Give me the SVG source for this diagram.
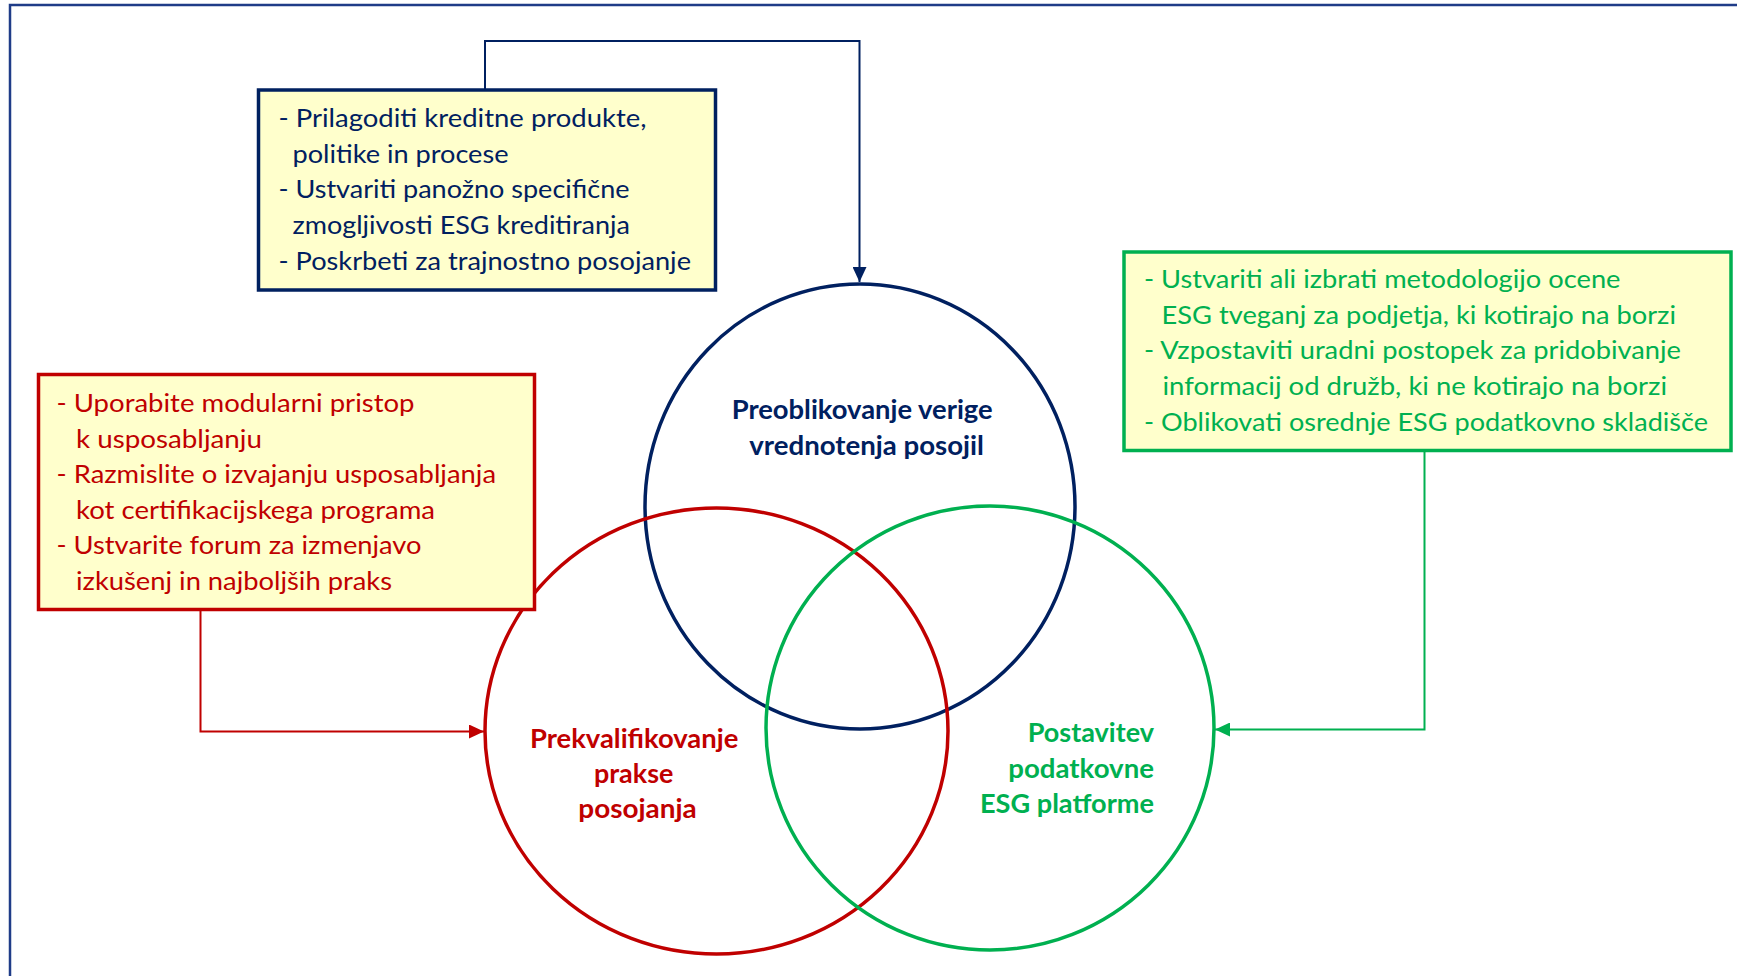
<svg xmlns="http://www.w3.org/2000/svg" width="1737" height="976" viewBox="0 0 1737 976">
<defs>
<style>
.t{font-family:Lato,"Liberation Sans",sans-serif;font-size:25px}
.b{font-family:Lato,"Liberation Sans",sans-serif;font-size:26px;font-weight:bold}
.navy{fill:#002060}.red{fill:#C00000}.green{fill:#00B050}
.box{fill:#FFFFCC;stroke-width:3.5}
.circ{fill:none;stroke-width:3.5}
.con{fill:none;stroke-width:2}
</style>
<marker id="aN" markerUnits="userSpaceOnUse" markerWidth="16" markerHeight="14" refX="15" refY="7" orient="auto"><path d="M0,0 L15,7 L0,14 z" fill="#002060"/></marker>
<marker id="aR" markerUnits="userSpaceOnUse" markerWidth="16" markerHeight="14" refX="15" refY="7" orient="auto"><path d="M0,0 L15,7 L0,14 z" fill="#C00000"/></marker>
<marker id="aG" markerUnits="userSpaceOnUse" markerWidth="16" markerHeight="14" refX="15" refY="7" orient="auto"><path d="M0,0 L15,7 L0,14 z" fill="#00B050"/></marker>
</defs>
<rect width="1737" height="976" fill="#FFFFFF"/>
<path d="M10,980 V5 H1745" fill="none" stroke="#1F3C88" stroke-width="2.5"/>

<g id="circle-blue">
<ellipse class="circ" cx="860" cy="506.5" rx="215" ry="222.5" stroke="#002060"/>
<text class="b navy" x="731.7" y="419.3" textLength="261" lengthAdjust="spacingAndGlyphs">Preoblikovanje verige</text>
<text class="b navy" x="749.3" y="455" textLength="234.7" lengthAdjust="spacingAndGlyphs">vrednotenja posojil</text>
</g>
<g id="circle-red">
<ellipse class="circ" cx="716.5" cy="731" rx="231.5" ry="223" stroke="#C00000"/>
<text class="b red" x="530" y="748.3" textLength="208.3" lengthAdjust="spacingAndGlyphs">Prekvalifikovanje</text>
<text class="b red" x="594" y="783.3" textLength="79.3" lengthAdjust="spacingAndGlyphs">prakse</text>
<text class="b red" x="578.3" y="818" textLength="118.4" lengthAdjust="spacingAndGlyphs">posojanja</text>
</g>
<g id="circle-green">
<ellipse class="circ" cx="990" cy="728" rx="224" ry="222" stroke="#00B050"/>
<text class="b green" x="1027.7" y="741.7" textLength="126.3" lengthAdjust="spacingAndGlyphs">Postavitev</text>
<text class="b green" x="1008.3" y="778.3" textLength="145.7" lengthAdjust="spacingAndGlyphs">podatkovne</text>
<text class="b green" x="980" y="813.3" textLength="174" lengthAdjust="spacingAndGlyphs">ESG platforme</text>
</g>

<g id="connectors">
<path class="con" d="M485,89 V41 H859.5 V282" stroke="#002060" marker-end="url(#aN)"/>
<path class="con" d="M200.5,611 V731.5 H484" stroke="#C00000" marker-end="url(#aR)"/>
<path class="con" d="M1424.5,451 V729.5 H1215" stroke="#00B050" marker-end="url(#aG)"/>
</g>

<g id="box-blue">
<rect class="box" x="258.5" y="90" width="457" height="200" stroke="#002060"/>
<text class="t navy" x="278.5" y="127" textLength="368" lengthAdjust="spacingAndGlyphs">- Prilagoditi kreditne produkte,</text>
<text class="t navy" x="292.5" y="162.7" textLength="216" lengthAdjust="spacingAndGlyphs">politike in procese</text>
<text class="t navy" x="278.5" y="198.4" textLength="351" lengthAdjust="spacingAndGlyphs">- Ustvariti panožno specifične</text>
<text class="t navy" x="292.5" y="234.1" textLength="337.5" lengthAdjust="spacingAndGlyphs">zmogljivosti ESG kreditiranja</text>
<text class="t navy" x="278.5" y="269.8" textLength="412.5" lengthAdjust="spacingAndGlyphs">- Poskrbeti za trajnostno posojanje</text>
</g>

<g id="box-red">
<rect class="box" x="38.5" y="374.5" width="496" height="235" stroke="#C00000"/>
<text class="t red" x="56.5" y="412" textLength="358" lengthAdjust="spacingAndGlyphs">- Uporabite modularni pristop</text>
<text class="t red" x="76" y="447.5" textLength="186" lengthAdjust="spacingAndGlyphs">k usposabljanju</text>
<text class="t red" x="56.5" y="483" textLength="439.5" lengthAdjust="spacingAndGlyphs">- Razmislite o izvajanju usposabljanja</text>
<text class="t red" x="76" y="518.5" textLength="359" lengthAdjust="spacingAndGlyphs">kot certifikacijskega programa</text>
<text class="t red" x="56.5" y="554" textLength="365" lengthAdjust="spacingAndGlyphs">- Ustvarite forum za izmenjavo</text>
<text class="t red" x="76" y="589.5" textLength="316" lengthAdjust="spacingAndGlyphs">izkušenj in najboljših praks</text>
</g>

<g id="box-green">
<rect class="box" x="1124" y="252" width="607" height="198.5" stroke="#00B050"/>
<text class="t green" x="1144" y="288" textLength="476.5" lengthAdjust="spacingAndGlyphs">- Ustvariti ali izbrati metodologijo ocene</text>
<text class="t green" x="1161.5" y="323.7" textLength="514.5" lengthAdjust="spacingAndGlyphs">ESG tveganj za podjetja, ki kotirajo na borzi</text>
<text class="t green" x="1144" y="359.4" textLength="537" lengthAdjust="spacingAndGlyphs">- Vzpostaviti uradni postopek za pridobivanje</text>
<text class="t green" x="1162.5" y="395.1" textLength="504.5" lengthAdjust="spacingAndGlyphs">informacij od družb, ki ne kotirajo na borzi</text>
<text class="t green" x="1144" y="430.8" textLength="564" lengthAdjust="spacingAndGlyphs">- Oblikovati osrednje ESG podatkovno skladišče</text>
</g>
</svg>
